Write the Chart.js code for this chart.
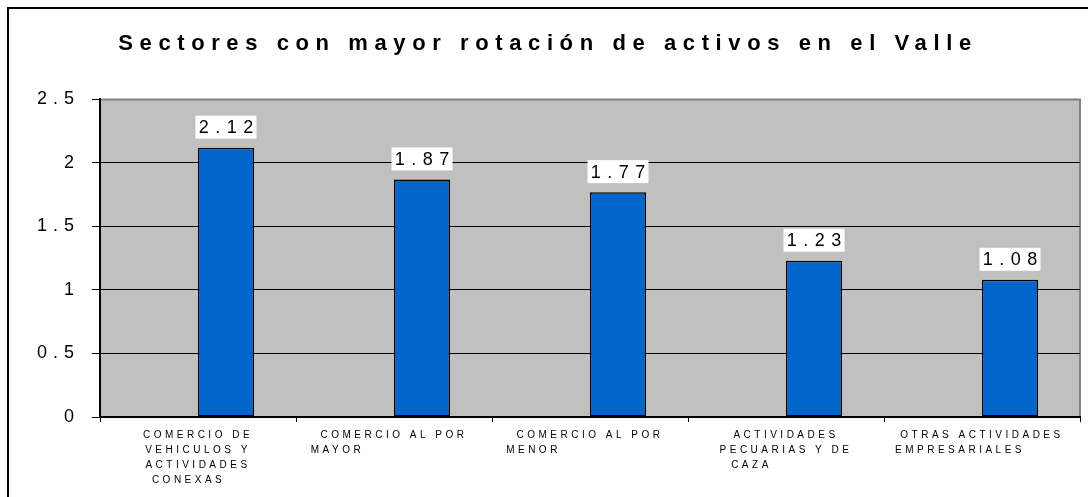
<!DOCTYPE html>
<html>
<head>
<meta charset="utf-8">
<script src="https://cdn.jsdelivr.net/npm/chart.js@4"></script>
<style>
  html, body { margin: 0; padding: 0; background: #fff; overflow: hidden; }
  #wrap { position: relative; width: 1088px; height: 497px; overflow: hidden; }
  #frame { position: absolute; left: 7px; top: 7px; width: 1120px; height: 540px; border: 2px solid #000; }
  #chart { position: absolute; left: 0; top: 0; }
</style>
</head>
<body>
<div id="wrap">
  <div id="frame"></div>
  <canvas id="chart" width="1088" height="497"></canvas>
</div>
<script>
const titleText = "Sectores con mayor rotación de activos en el Valle";

const sectors = [
    ["COMERCIO DE", "VEHICULOS Y", "ACTIVIDADES", "CONEXAS"],
    ["COMERCIO AL POR", "MAYOR"],
    ["COMERCIO AL POR", "MENOR"],
    ["ACTIVIDADES", "PECUARIAS Y DE", "CAZA"],
    ["OTRAS ACTIVIDADES", "EMPRESARIALES"]
];

const rotation = [2.12, 1.87, 1.77, 1.23, 1.08];

const yTicks = [0, 0.5, 1, 1.5, 2, 2.5];

// Excel pushed the last wrapped line a bit to the left; trailing spaces mimic it
const lastLinePad = [3, 18, 18, 11, 7];

const FONT = 'Arial, "Liberation Sans", sans-serif';

// canvas letter spacing per element (and a small horizontal nudge)
function spaced(obj, method, px, dx = 0) {
    if (obj[method]._spaced) return;
    const orig = obj[method];
    const f = function (...args) {
        const c = this.ctx;
        c.save();
        c.letterSpacing = px;
        c.translate(dx, 0);
        const r = orig.apply(this, args);
        c.restore();
        return r;
    };
    f._spaced = true;
    obj[method] = f;
}

const plotFrame = {
    id: "plotFrame",
    afterLayout(chart) {
        if (chart.titleBlock) spaced(chart.titleBlock, "draw", "6.6px", 8);
        spaced(chart.scales.x, "drawLabels", "3.5px");
        spaced(chart.scales.y, "drawLabels", "6px");
    },
    beforeDraw(chart) {
        const { ctx, chartArea: a } = chart;
        ctx.save();
        ctx.fillStyle = "#c0c0c0";
        ctx.fillRect(a.left, a.top, a.right - a.left, a.bottom - a.top);
        ctx.strokeStyle = "#808080";
        ctx.lineWidth = 2;
        ctx.beginPath();
        ctx.moveTo(a.left, a.top);
        ctx.lineTo(a.right, a.top);
        ctx.lineTo(a.right, a.bottom);
        ctx.stroke();
        ctx.restore();
    }
};

const valueLabels = {
    id: "valueLabels",
    afterDatasetsDraw(chart) {
        const ctx = chart.ctx;
        const meta = chart.getDatasetMeta(1);
        const sp = 6.5;
        ctx.save();
        ctx.font = "18px " + FONT;
        ctx.letterSpacing = sp + "px";
        ctx.textBaseline = "middle";
        ctx.textAlign = "left";
        meta.data.forEach((bar, i) => {
            const txt = rotation[i].toFixed(2);
            const w = ctx.measureText(txt).width;
            const bw = w, bh = 23;
            const cy = bar.y - 9 - bh / 2;
            ctx.fillStyle = "#fff";
            ctx.fillRect(bar.x - bw / 2, cy - bh / 2, bw, bh);
            ctx.fillStyle = "#000";
            ctx.fillText(txt, bar.x - (w - sp) / 2, cy + 1);
        });
        ctx.restore();
    }
};

new Chart(document.getElementById("chart"), {
    type: "bar",
    data: {
        labels: sectors,
        datasets: [
            { label: "", data: sectors.map(() => null) },
            {
                label: "Rotación de activos",
                data: rotation,
                backgroundColor: "#0066cc",
                borderColor: "#000",
                borderWidth: 1.5,
                borderSkipped: false
            }
        ]
    },
    options: {
        responsive: false,
        animation: false,
        devicePixelRatio: 1,
        categoryPercentage: 112 / 196,
        barPercentage: 1,
        layout: { padding: { top: 0, right: 8, bottom: 0, left: 0 } },
        plugins: {
            legend: { display: false },
            tooltip: { enabled: false },
            title: {
                display: true,
                text: titleText,
                color: "#000",
                font: { family: FONT, size: 22, weight: "bold", lineHeight: 1.2 },
                padding: { top: 31, bottom: 42 }
            }
        },
        scales: {
            x: {
                afterFit(s) { s.height = 80; },
                grid: { drawOnChartArea: false, tickLength: 5, tickColor: "#000", color: "#000", lineWidth: 1 },
                border: { color: "#000", width: 2 },
                ticks: {
                    autoSkip: false,
                    maxRotation: 0,
                    minRotation: 0,
                    padding: 6,
                    color: "#000",
                    font: { family: FONT, size: 10, lineHeight: 1.5 },
                    callback(v, i) {
                        const lines = sectors[i].slice();
                        lines[lines.length - 1] += " ".repeat(lastLinePad[i]);
                        return lines;
                    }
                }
            },
            y: {
                min: 0,
                max: 2.5,
                afterFit(s) { s.width = 100; },
                afterBuildTicks(s) { s.ticks = yTicks.map(v => ({ value: v })); },
                grid: {
                    color: c => (c.tick && c.tick.value === 2.5 ? "#808080" : "#000"),
                    tickColor: "#000",
                    lineWidth: 1,
                    tickLength: 8
                },
                border: { color: "#000", width: 2 },
                ticks: {
                    padding: 12,
                    color: "#000",
                    font: { family: FONT, size: 18 },
                    callback: v => String(v)
                }
            }
        }
    },
    plugins: [plotFrame, valueLabels]
});
</script>
</body>
</html>
